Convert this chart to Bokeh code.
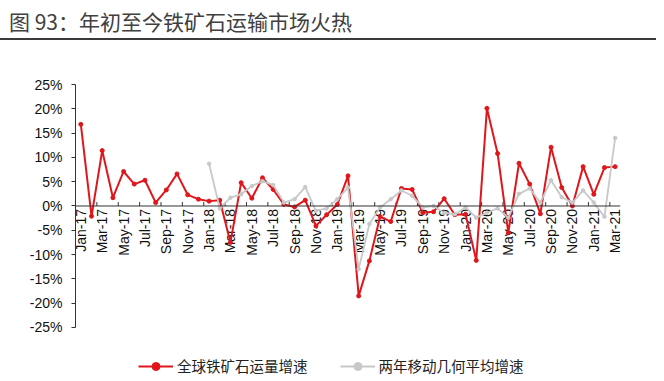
import math
from bokeh.plotting import figure
from bokeh.layouts import column
from bokeh.models import (FixedTicker, Range1d, Legend, LegendItem,
                          PrintfTickFormatter, Span, Div)
from bokeh.core.properties import value
from bokeh.embed import file_html
from bokeh.resources import INLINE

months = ["Jan-17", "Feb-17", "Mar-17", "Apr-17", "May-17", "Jun-17",
          "Jul-17", "Aug-17", "Sep-17", "Oct-17", "Nov-17", "Dec-17",
          "Jan-18", "Feb-18", "Mar-18", "Apr-18", "May-18", "Jun-18",
          "Jul-18", "Aug-18", "Sep-18", "Oct-18", "Nov-18", "Dec-18",
          "Jan-19", "Feb-19", "Mar-19", "Apr-19", "May-19", "Jun-19",
          "Jul-19", "Aug-19", "Sep-19", "Oct-19", "Nov-19", "Dec-19",
          "Jan-20", "Feb-20", "Mar-20", "Apr-20", "May-20", "Jun-20",
          "Jul-20", "Aug-20", "Sep-20", "Oct-20", "Nov-20", "Dec-20",
          "Jan-21", "Feb-21", "Mar-21"]

ore_growth = [16.8, -2.1, 11.4, 1.7, 7.1, 4.5, 5.3, 0.7, 3.3, 6.6, 2.3, 1.4,
              1.0, 1.2, -7.5, 4.8, 1.6, 5.8, 3.4, 0.3, -0.2, 1.2, -4.1, -1.8,
              0.3, 6.2, -18.5, -11.3, -2.2, -3.2, 3.6, 3.4, -1.4, -1.2, 1.5, -1.8,
              -1.7, -11.2, 20.1, 10.8, -5.5, 8.8, 4.5, -1.6, 12.1, 3.8, 0.0, 8.1,
              2.4, 7.9, 8.1]

geo_months = months[12:]
geo_avg = [8.7, -0.5, 1.7, 2.4, 4.1, 5.1, 4.3, 0.7, 1.4, 3.9, -1.0, -0.5,
           1.4, 3.8, -13.0, -3.7, -0.3, 1.4, 3.2, 2.1, -0.3, 0.0, -1.4, -1.7,
           -0.3, -2.4, -1.4, -0.5, -2.4, 2.5, 3.6, 0.7, 5.3, 1.8, 0.7, 3.2,
           0.7, -2.2, 14.0]

y_ticks = [-25, -20, -15, -10, -5, 0, 5, 10, 15, 20, 25]
x_tick_labels = months[::2]

title_text = "图 93：年初至今铁矿石运输市场火热"
series_names = ["全球铁矿石运量增速", "两年移动几何平均增速"]

RED = "#E0161B"
GRAY = "#C8C8C8"
AXIS = "#333333"

x_red = list(range(len(months)))
x_gray = [months.index(m) for m in geo_months]
x_lab = [months.index(m) for m in x_tick_labels]
x_minor = [i + 1.5 for i in x_lab[:-1]]

title = Div(text=title_text, width=656, height=40, margin=0,
            styles={"font-family": "'Noto Sans CJK SC', sans-serif",
                    "font-size": "21px", "color": "#404040",
                    "padding-left": "9px", "padding-top": "5px",
                    "line-height": "33px",
                    "border-bottom": "2px solid #3a3a3a",
                    "box-sizing": "border-box"})

# the frame extends below -25% to hold the legend; the axis is bounded to ±25%
p = figure(width=664, height=340, output_backend="svg", toolbar_location=None,
           x_range=Range1d(-0.5, len(months) - 0.5), y_range=Range1d(-35.5, 25),
           min_border_left=75, min_border_right=44, min_border_top=44,
           min_border_bottom=2, margin=0)
p.outline_line_color = None
p.grid.visible = False
p.background_fill_color = "white"
p.border_fill_color = "white"
p.xaxis.visible = False

ya = p.yaxis[0]
ya.bounds = (y_ticks[0], y_ticks[-1])
ya.ticker = FixedTicker(ticks=y_ticks)
ya.formatter = PrintfTickFormatter(format="%d%%")
ya.major_tick_in = 0
ya.major_tick_out = 4
ya.minor_tick_line_color = None
ya.axis_line_color = AXIS
ya.major_tick_line_color = AXIS
ya.major_label_text_font = "Liberation Sans"
ya.major_label_text_font_size = "14px"
ya.major_label_text_color = "#111111"
ya.major_label_standoff = 9

# zero line with category tick marks and month labels
p.add_layout(Span(location=0, dimension="width", line_color=AXIS, line_width=1))
p.segment(x0=x_minor, y0=[0] * len(x_minor), x1=x_minor, y1=[0.8] * len(x_minor),
          line_color=AXIS, line_width=1)
p.text(x=x_lab, y=[0] * len(x_lab), text=x_tick_labels, angle=math.pi / 2,
       text_align="right", text_baseline="middle", y_offset=3,
       text_font=value("Liberation Sans"), text_font_size="14px",
       text_color="#111111")

l1 = p.line(x_red, ore_growth, line_color=RED, line_width=2)
s1 = p.scatter(x_red, ore_growth, marker="circle", size=4, fill_color=RED, line_color=RED)
l2 = p.line(x_gray, geo_avg, line_color=GRAY, line_width=1.8)
s2 = p.scatter(x_gray, geo_avg, marker="circle", size=3.5, fill_color=GRAY, line_color=GRAY)

legend = Legend(items=[LegendItem(label=series_names[0], renderers=[l1, s1]),
                       LegendItem(label=series_names[1], renderers=[l2, s2])],
                orientation="horizontal", location=(63, 2),
                label_text_font="Noto Sans CJK SC", label_text_font_size="14.5px",
                label_text_color="#222222", glyph_width=35, label_standoff=4,
                spacing=32, border_line_color=None, background_fill_alpha=0,
                padding=4, margin=0)
p.add_layout(legend)

open("out.html", "w").write(file_html(column(title, p, spacing=0), INLINE))
